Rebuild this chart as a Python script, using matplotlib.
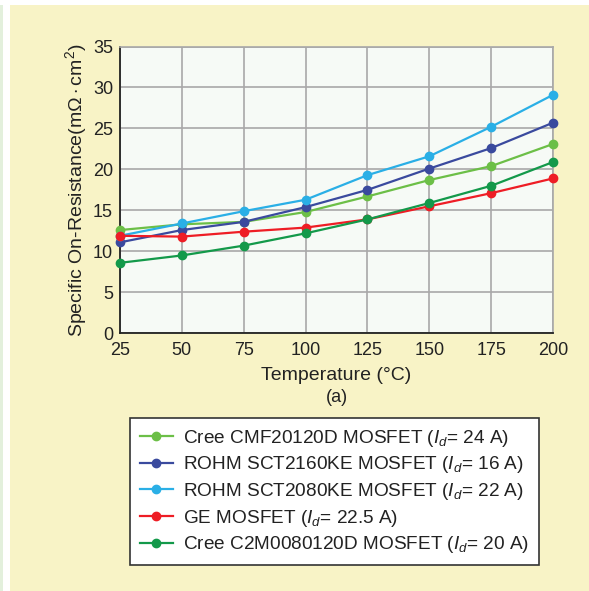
import matplotlib
matplotlib.use("Agg")
import matplotlib.pyplot as plt
from matplotlib.patches import Rectangle

temps = [25, 50, 75, 100, 125, 150, 175, 200]
cree_cmf = [12.6, 13.3, 13.6, 14.8, 16.7, 18.7, 20.4, 23.1]
rohm_2160 = [11.1, 12.6, 13.6, 15.4, 17.5, 20.1, 22.6, 25.7]
rohm_2080 = [11.9, 13.4, 14.9, 16.3, 19.3, 21.6, 25.2, 29.1]
ge = [11.9, 11.8, 12.4, 12.9, 13.9, 15.5, 17.1, 18.9]
cree_c2m = [8.6, 9.5, 10.7, 12.2, 13.9, 15.9, 18.0, 20.9]

labels = [
    "Cree CMF20120D MOSFET ($I_d$= 24 A)",
    "ROHM SCT2160KE MOSFET ($I_d$= 16 A)",
    "ROHM SCT2080KE MOSFET ($I_d$= 22 A)",
    "GE MOSFET ($I_d$= 22.5 A)",
    "Cree C2M0080120D MOSFET ($I_d$= 20 A)",
]
series = [cree_cmf, rohm_2160, rohm_2080, ge, cree_c2m]
colors = ["#6CBF47", "#3A4A9E", "#2AAFE6", "#EE1D25", "#13994A"]
yticks = [0, 5, 10, 15, 20, 25, 30, 35]

plt.rcParams['font.family'] = ['Liberation Sans', 'DejaVu Sans']
plt.rcParams['mathtext.fontset'] = 'custom'
plt.rcParams['mathtext.it'] = 'Liberation Sans:italic'
plt.rcParams['mathtext.rm'] = 'Liberation Sans'

W, H = 589, 591
fig = plt.figure(figsize=(W / 100, H / 100), dpi=100, facecolor="white")
fig.patches.append(Rectangle((10 / W, 0), 1 - 10 / W, 1 - 5 / H, transform=fig.transFigure,
                             facecolor="#F8F3C6", edgecolor="none", zorder=-10))
fig.patches.append(Rectangle((0, 0), 3 / W, 1 - 5 / H, transform=fig.transFigure,
                             facecolor="#E3F0DC", edgecolor="none", zorder=-10))

left, right, top, bottom = 120, 553, 46.5, 333.3
ax = fig.add_axes([left / W, 1 - bottom / H, (right - left) / W, (bottom - top) / H])
ax.set_facecolor("#F6FAF6")

for ys, c, lab in zip(series, colors, labels):
    ax.plot(temps, ys, color=c, lw=1.6, marker="o", ms=6, label=lab, clip_on=False, zorder=3)

ax.set_xlim(25, 200)
ax.set_ylim(0, 35)
ax.set_xticks(temps)
ax.set_yticks(yticks)
ax.grid(True, color="#A8A8A8", lw=1.2)
ax.set_axisbelow(True)
ax.tick_params(length=0, labelsize=13, colors="#222222")
ax.tick_params(axis="x", pad=6)
ax.tick_params(axis="y", pad=5)
for s in ["top", "right"]:
    ax.spines[s].set_color("#A8A8A8")
    ax.spines[s].set_linewidth(1.2)
for s in ["left", "bottom"]:
    ax.spines[s].set_color("#222222")
    ax.spines[s].set_linewidth(1.3)

ax.set_xlabel("Temperature (°C)", fontsize=14, color="#222222", labelpad=6)
ax.set_ylabel("Specific On-Resistance(m$\\Omega\\cdot$cm$^2$)", fontsize=14, color="#222222", labelpad=3)
fig.text((left + right) / 2 / W, 1 - 397 / H, "(a)", ha="center", va="center", fontsize=13, color="#222222")

handles, labs = ax.get_legend_handles_labels()
leg = fig.legend(handles, labs, loc="upper left", bbox_to_anchor=(130 / W, 1 - 418 / H),
                 fontsize=13.7, frameon=True, fancybox=False, borderpad=0.5, handlelength=1.75,
                 handletextpad=0.55, labelspacing=0.3, borderaxespad=0, framealpha=1)
leg.get_frame().set_edgecolor("#333333")
leg.get_frame().set_linewidth(1.2)
leg.get_frame().set_facecolor("white")
for t in leg.get_texts():
    t.set_color("#222222")

fig.savefig("out.png", dpi=100, facecolor=fig.get_facecolor())
